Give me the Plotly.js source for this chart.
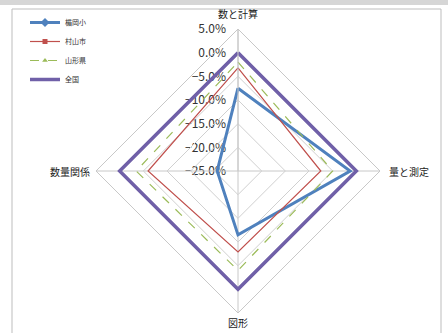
<!DOCTYPE html>
<html><head><meta charset="utf-8">
<script src="https://cdn.plot.ly/plotly-3.0.1.min.js"></script>
<style>html,body{margin:0;padding:0;background:#fff;}#chart{width:448px;height:333px;}</style>
</head><body><div id="chart"></div>
<script>
const categories = ["数と計算", "量と測定", "図形", "数量関係"];
const seriesNames = ["楯岡小", "村山市", "山形県", "全国"];
const schoolValues = [-0.075, -0.013, -0.115, -0.206];
const cityValues = [-0.032, -0.075, -0.079, -0.060];
const prefValues = [-0.020, -0.050, -0.040, -0.035];
const nationValues = [0.0, 0.0, 0.0, 0.0];
const tickValues = [-0.25, -0.20, -0.15, -0.10, -0.05, 0.0, 0.05];
const radialRange = [-0.25, 0.05];

const close = a => a.concat([a[0]]);
const theta = close(categories);

const styles = [
  {color: "#4F81BD", width: 3, dash: "solid", marker: {symbol: "diamond", size: 7}},
  {color: "#C0504D", width: 1.2, dash: "solid", marker: {symbol: "square", size: 5}},
  {color: "#9BBB59", width: 1.2, dash: "dash", marker: {symbol: "triangle-up", size: 5}},
  {color: "#7060A8", width: 3.5, dash: "solid", marker: null}
];
const allValues = [schoolValues, cityValues, prefValues, nationValues];

const traces = allValues.map((vals, i) => {
  const s = styles[i];
  const t = {
    type: "scatterpolar",
    r: close(vals),
    theta: theta,
    name: seriesNames[i],
    mode: s.marker ? "lines+markers" : "lines",
    line: {color: s.color, width: s.width, dash: s.dash},
    cliponaxis: false
  };
  if (s.marker) t.marker = {symbol: s.marker.symbol, size: s.marker.size, color: s.color};
  return t;
});
// helper trace so the value scale is drawn by a cartesian y axis beside the vertical spoke
traces.push({type: "scatter", x: [], y: [], xaxis: "x", yaxis: "y", showlegend: false, hoverinfo: "skip"});

const W = 448, H = 333, cx = 238, cy = 171, R = 142;
const annFont = {size: 10, color: "#222"};
const layout = {
  width: W, height: H,
  margin: {l: 0, r: 0, t: 0, b: 0},
  paper_bgcolor: "#ffffff",
  plot_bgcolor: "rgba(0,0,0,0)",
  font: {family: "'Noto Sans CJK JP', 'Liberation Sans', sans-serif", color: "#222"},
  showlegend: true,
  legend: {
    x: 25 / W, y: 1 - 8 / H, xanchor: "left", yanchor: "top",
    font: {size: 7, color: "#333"},
    bgcolor: "rgba(0,0,0,0)", tracegroupgap: 0, itemwidth: 30
  },
  xaxis: {visible: false, domain: [0, 0.01], range: [0, 1], fixedrange: true},
  yaxis: {
    anchor: "free", position: 226 / W, side: "left",
    domain: [1 - cy / H, 1 - (cy - R) / H],
    range: radialRange, tickvals: tickValues, tickformat: ".1%",
    showgrid: false, zeroline: false, showline: false, ticks: "",
    tickfont: {size: 12, color: "#333"}, fixedrange: true
  },
  polar: {
    domain: {x: [(cx - R) / W, (cx + R) / W], y: [1 - (cy + R) / H, 1 - (cy - R) / H]},
    bgcolor: "rgba(0,0,0,0)",
    gridshape: "linear",
    angularaxis: {
      rotation: 90, direction: "clockwise",
      showline: true, linecolor: "#c8c8c8", linewidth: 1,
      gridcolor: "#c8c8c8", ticks: "", showticklabels: false
    },
    radialaxis: {
      range: radialRange, tickvals: tickValues,
      angle: 90, showticklabels: false,
      showline: true, linecolor: "#c8c8c8", gridcolor: "#d0d0d0", ticks: ""
    }
  },
  annotations: [
    {text: categories[0], xref: "paper", yref: "paper", x: 238 / W, y: 1 - 13 / H, showarrow: false, font: annFont, xanchor: "center", yanchor: "middle"},
    {text: categories[1], xref: "paper", yref: "paper", x: 387 / W, y: 1 - 171 / H, showarrow: false, font: annFont, xanchor: "left", yanchor: "middle"},
    {text: categories[2], xref: "paper", yref: "paper", x: 238 / W, y: 1 - 322 / H, showarrow: false, font: annFont, xanchor: "center", yanchor: "middle"},
    {text: categories[3], xref: "paper", yref: "paper", x: 92 / W, y: 1 - 171 / H, showarrow: false, font: annFont, xanchor: "right", yanchor: "middle"}
  ],
  shapes: [
    {type: "rect", xref: "paper", yref: "paper", x0: 0, x1: 1, y0: 1 - 5 / H, y1: 1,
     fillcolor: "#d6d6d6", line: {width: 0}},
    {type: "rect", xref: "paper", yref: "paper", x0: 12 / W, x1: 441 / W, y0: -0.01, y1: 1 - 9 / H,
     fillcolor: "rgba(0,0,0,0)", line: {color: "#bdbdbd", width: 1}}
  ]
};
Plotly.newPlot("chart", traces, layout, {displayModeBar: false, staticPlot: true});
</script></body></html>
